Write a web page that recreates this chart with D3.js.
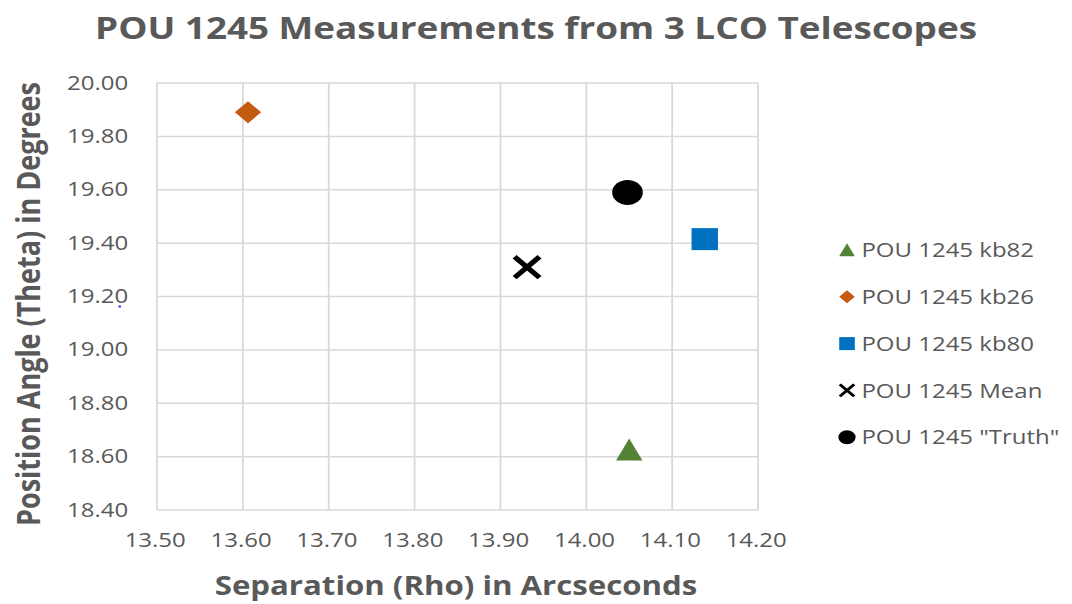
<!DOCTYPE html>
<html lang="en">
<head>
   <meta charset="UTF-8">
   <title>POU 1245 Measurements</title>
   <style>
      html, body {
         margin: 0;
         padding: 0;
         background: #ffffff;
         overflow: hidden;
      }

      text {
         font-family: 'Open Sans', sans-serif;
         fill: #595959;
      }

      .grid line {
         stroke: #d9d9d9;
         stroke-width: 1.5px;
      }

      .tick text {
         font-size: 20px;
      }
   </style>
   <script src="https://cdn.jsdelivr.net/npm/d3@7"></script>
</head>
<body>
   <div class="d3"></div>
   <script>
      // data
      const seriesNames = ['POU 1245 kb82', 'POU 1245 kb26', 'POU 1245 kb80', 'POU 1245 Mean', 'POU 1245 "Truth"']
      const rhoValues = [14.05, 13.606, 14.138, 13.931, 14.048]
      const thetaValues = [18.625, 19.89, 19.415, 19.31, 19.59]
      const seriesColors = ['#548235', '#c55a11', '#0070c0', '#000000', '#000000']
      const seriesShapes = ['triangle', 'diamond', 'square', 'cross', 'circle']
      const xTicks = [13.5, 13.6, 13.7, 13.8, 13.9, 14.0, 14.1, 14.2]
      const yTicks = [18.4, 18.6, 18.8, 19.0, 19.2, 19.4, 19.6, 19.8, 20.0]

      const WIDTH = 1072
      const HEIGHT = 604
      // the original picture is stretched sideways, so draw in a narrower box
      const STRETCH = 1.2
      const VW = WIDTH / STRETCH

      const svg = d3.select('.d3').append('svg')
         .attr('width', WIDTH)
         .attr('height', HEIGHT)
         .attr('viewBox', `0 0 ${VW} ${HEIGHT}`)
         .attr('preserveAspectRatio', 'none')
         .style('display', 'block')

      const plot = { left: 157 / STRETCH, right: 758 / STRETCH, top: 83, bottom: 510 }

      const xScale = d3.scaleLinear()
         .domain([13.5, 14.2])
         .range([plot.left, plot.right])

      const yScale = d3.scaleLinear()
         .domain([18.4, 20.0])
         .range([plot.bottom, plot.top])

      // gridlines
      const grid = svg.append('g').attr('class', 'grid')
      grid.selectAll('.gx')
         .data(xTicks)
         .enter()
         .append('line')
         .attr('x1', d => xScale(d))
         .attr('x2', d => xScale(d))
         .attr('y1', plot.top)
         .attr('y2', plot.bottom)
      grid.selectAll('.gy')
         .data(yTicks)
         .enter()
         .append('line')
         .attr('x1', plot.left)
         .attr('x2', plot.right)
         .attr('y1', d => yScale(d))
         .attr('y2', d => yScale(d))

      // axes (labels only)
      const xAxis = d3.axisBottom(xScale)
         .tickValues(xTicks)
         .tickFormat(d3.format('.2f'))
         .tickSize(0)
         .tickPadding(23)
      const xAxisGroup = svg.append('g')
         .attr('transform', `translate(0, ${plot.bottom})`)
         .call(xAxis)
      xAxisGroup.select('.domain').remove()
      xAxisGroup.selectAll('text')
         .attr('font-family', null)
         .attr('x', -2)

      const yAxis = d3.axisLeft(yScale)
         .tickValues(yTicks)
         .tickFormat(d3.format('.2f'))
         .tickSize(0)
         .tickPadding(24)
      const yAxisGroup = svg.append('g')
         .attr('transform', `translate(${plot.left}, 0)`)
         .call(yAxis)
      yAxisGroup.select('.domain').remove()
      yAxisGroup.selectAll('text').attr('font-family', null).attr('dy', '0.3em')

      // titles
      svg.append('text')
         .attr('x', 536 / STRETCH)
         .attr('y', 39)
         .attr('text-anchor', 'middle')
         .style('font-size', '30.7px')
         .style('font-weight', 'bold')
         .text('POU 1245 Measurements from 3 LCO Telescopes')

      svg.append('text')
         .attr('x', 456 / STRETCH)
         .attr('y', 595)
         .attr('text-anchor', 'middle')
         .style('font-size', '26px')
         .style('font-weight', 'bold')
         .text('Separation (Rho) in Arcseconds')

      svg.append('text')
         .attr('transform', `translate(${40 / STRETCH}, 304) rotate(-90)`)
         .attr('text-anchor', 'middle')
         .style('font-size', '27px')
         .style('font-weight', 'bold')
         .text('Position Angle (Theta) in Degrees')

      // marker shapes, s = half size
      function markerPath(shape, s) {
         switch (shape) {
            case 'triangle':
               return `M0,${-s * 1.05}L${s},${s * 0.95}L${-s},${s * 0.95}Z`
            case 'diamond':
               return `M0,${-s}L${s},0L0,${s}L${-s},0Z`
            case 'square':
               return `M${-s},${-s}H${s}V${s}H${-s}Z`
            case 'cross':
               return `M${-s},${-s}L${s},${s}M${s},${-s}L${-s},${s}`
            default:
               return null
         }
      }

      function drawMarker(g, i, s) {
         const shape = seriesShapes[i]
         if (shape === 'circle') {
            g.append('ellipse')
               .attr('rx', s * 1.02)
               .attr('ry', s)
               .attr('fill', seriesColors[i])
         } else if (shape === 'cross') {
            g.append('path')
               .attr('d', markerPath(shape, s * 0.8))
               .attr('fill', 'none')
               .attr('stroke', seriesColors[i])
               .attr('stroke-width', s * 0.36)
         } else {
            g.append('path')
               .attr('d', markerPath(shape, s))
               .attr('fill', seriesColors[i])
         }
      }

      const points = svg.selectAll('.point')
         .data(seriesNames)
         .enter()
         .append('g')
         .attr('class', 'point')
         .attr('transform', (d, i) => `translate(${xScale(rhoValues[i])}, ${yScale(thetaValues[i])})`)
      points.each(function (d, i) { drawMarker(d3.select(this), i, [11, 11, 11, 13, 12.5][i]) })

      // legend
      const legend = svg.append('g')
         .attr('transform', `translate(${847 / STRETCH}, 250)`)
      const rows = legend.selectAll('.row')
         .data(seriesNames)
         .enter()
         .append('g')
         .attr('class', 'row')
         .attr('transform', (d, i) => `translate(0, ${i * 46.8})`)
      rows.each(function (d, i) { drawMarker(d3.select(this), i, [6.5, 6.5, 6.5, 7.5, 7][i]) })
      rows.append('text')
         .attr('x', 12)
         .attr('dy', '0.36em')
         .style('font-size', '20px')
         .text(d => d)

      // small blue speck in the original
      svg.append('rect')
         .attr('x', 118.5 / STRETCH)
         .attr('y', 305.5)
         .attr('width', 2)
         .attr('height', 2)
         .attr('fill', '#2030ff')
   </script>
</body>
</html>
